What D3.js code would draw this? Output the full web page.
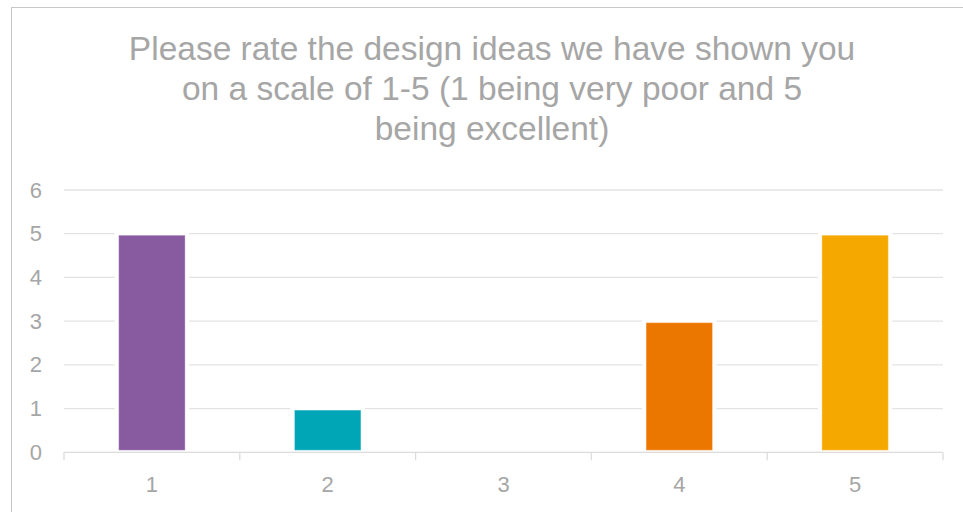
<!DOCTYPE html>
<html>
<head>
<meta charset="utf-8">
<script src="https://cdn.jsdelivr.net/npm/d3@7"></script>
<style>
  html, body { margin: 0; padding: 0; background: #fff; }
  svg { display: block; font-family: "Liberation Sans", Arial, sans-serif; }
</style>
</head>
<body>
<div id="container"></div>
<script>
/* DATA */
const ratings = ["1", "2", "3", "4", "5"];
const counts = [5, 1, 0, 3, 5];
const barColors = ["#885ba0", "#00a6b6", "#8c8c8c", "#ec7700", "#f5a800"];
const yTicks = [0, 1, 2, 3, 4, 5, 6];
const titleLines = [
  "Please rate the design ideas we have shown you",
  "on a scale of 1-5 (1 being very poor and 5",
  "being excellent)"
];

/* CONSTANTS */
const width = 963, height = 512;
const plot = { left: 64, right: 943, top: 190, bottom: 452.3 };
const textColor = "#a6a6a6", gridColor = "#e3e3e3";

const svg = d3.select("#container")
  .append("svg")
  .attr("width", width)
  .attr("height", height);

// chart frame (runs off the right / bottom edge)
svg.append("rect")
  .attr("x", 11.5).attr("y", 7.5)
  .attr("width", 980).attr("height", 520)
  .attr("fill", "#fff")
  .attr("stroke", "#c8c8c8");

// + TITLE
svg.append("g")
  .selectAll("text")
  .data(titleLines)
  .join("text")
    .attr("x", 492)
    .attr("y", (d, i) => 60 + i * 40)
    .attr("text-anchor", "middle")
    .attr("fill", textColor)
    .style("font-size", "33.5px")
    .text(d => d);

// + SCALES
const xScale = d3.scaleBand()
  .domain(ratings)
  .range([plot.left, plot.right])
  .paddingInner(0.622)
  .paddingOuter(0.311);

const yScale = d3.scaleLinear()
  .domain([0, 6])
  .range([plot.bottom, plot.top]);

// + GRIDLINES
svg.append("g")
  .selectAll("line")
  .data(yTicks.filter(d => d > 0))
  .join("line")
    .attr("x1", plot.left).attr("x2", plot.right)
    .attr("y1", d => yScale(d)).attr("y2", d => yScale(d))
    .attr("stroke", gridColor)
    .attr("stroke-width", 1.3);

// + Y AXIS
const yAxis = d3.axisLeft(yScale).tickValues(yTicks).tickFormat(d3.format("d")).tickSize(0).tickPadding(0);
const gy = svg.append("g")
  .attr("transform", `translate(${plot.left - 22}, 0)`)
  .call(yAxis);
gy.select(".domain").remove();
gy.selectAll("text")
  .attr("fill", textColor)
  .attr("x", 0)
  .attr("text-anchor", "end")
  .style("font-size", "22px")
  .style("font-family", "'Liberation Sans', Arial, sans-serif");

// + BARS (white halo under each bar hides the gridlines)
const bars = svg.append("g")
  .selectAll("g")
  .data(ratings.map((r, i) => ({ r, v: counts[i], c: barColors[i] })).filter(d => d.v > 0))
  .join("g");

bars.append("rect")
  .attr("x", d => xScale(d.r) - 4)
  .attr("width", xScale.bandwidth() + 8)
  .attr("y", d => yScale(d.v) - 2)
  .attr("height", d => yScale(0) - yScale(d.v))
  .attr("fill", "#fff");

bars.append("rect")
  .attr("x", d => xScale(d.r))
  .attr("width", xScale.bandwidth())
  .attr("y", d => yScale(d.v) + 1.5)
  .attr("height", d => yScale(0) - yScale(d.v) - 3.5)
  .attr("fill", d => d.c)
  .attr("stroke", "#fff")
  .attr("stroke-opacity", 0.35)
  .attr("stroke-width", 1);

// + X AXIS (tick marks on category boundaries)
const boundaries = d3.range(ratings.length + 1).map(i => plot.left + i * xScale.step());
const gx = svg.append("g");
gx.append("line")
  .attr("x1", plot.left).attr("x2", plot.right)
  .attr("y1", plot.bottom).attr("y2", plot.bottom)
  .attr("stroke", "#dcdcdc")
  .attr("stroke-width", 1.3);
gx.selectAll(".tk")
  .data(boundaries)
  .join("line")
    .attr("class", "tk")
    .attr("x1", d => d).attr("x2", d => d)
    .attr("y1", plot.bottom).attr("y2", plot.bottom + 8)
    .attr("stroke", "#dcdcdc")
    .attr("stroke-width", 1.3);
gx.selectAll("text")
  .data(ratings)
  .join("text")
    .attr("x", d => xScale(d) + xScale.bandwidth() / 2)
    .attr("y", 492)
    .attr("text-anchor", "middle")
    .attr("fill", textColor)
    .style("font-size", "22px")
    .text(d => d);
</script>
</body>
</html>
